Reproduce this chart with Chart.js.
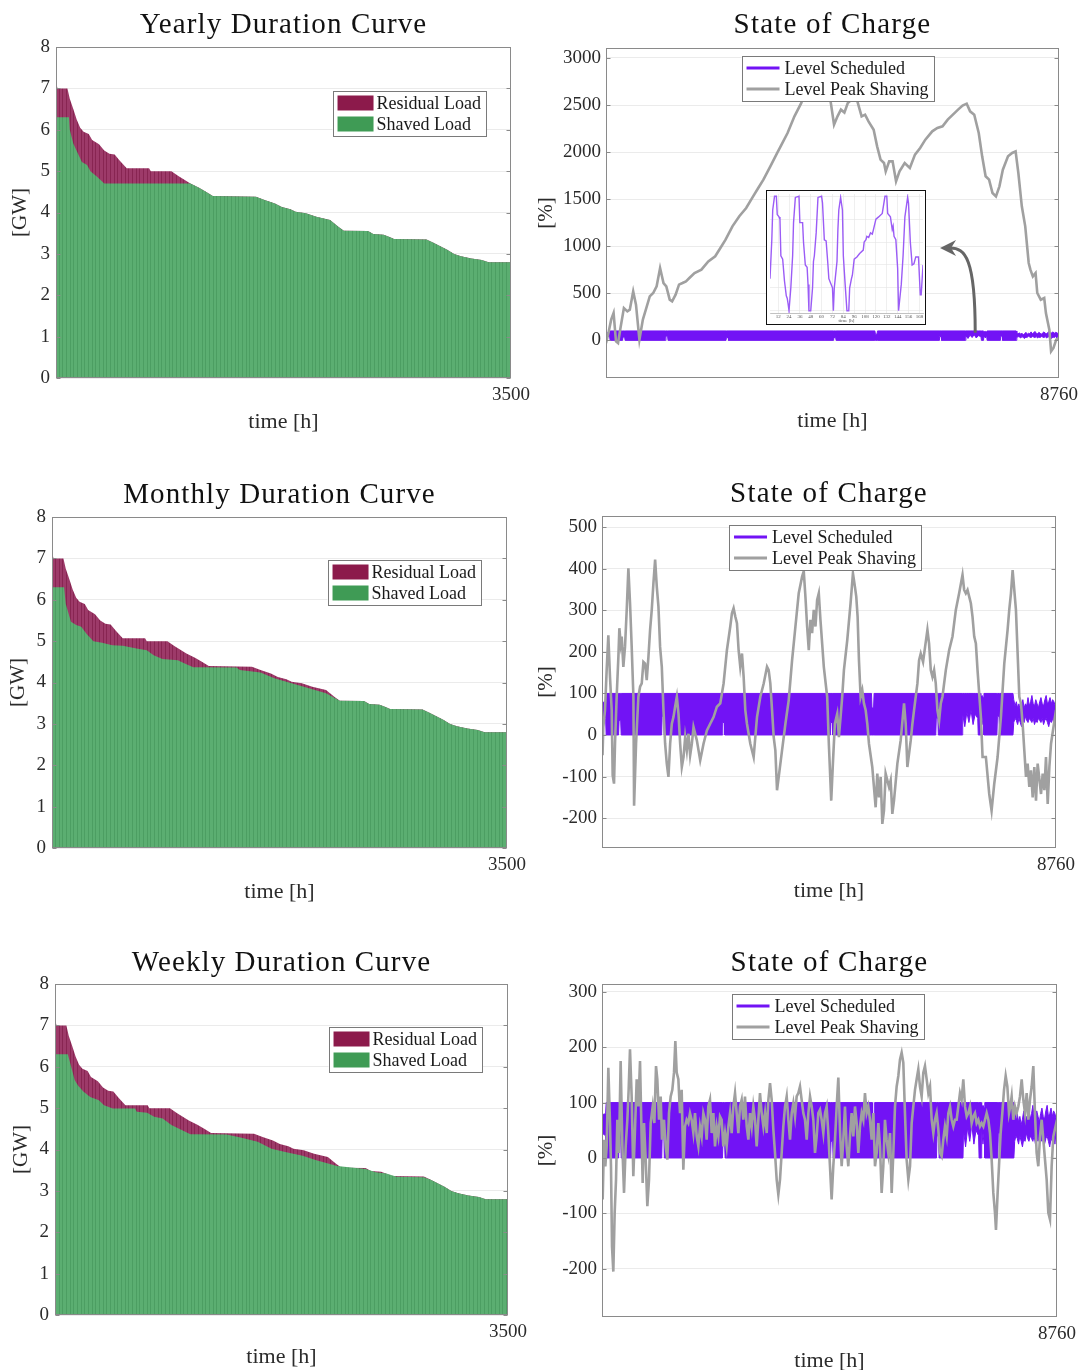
<!DOCTYPE html>
<html lang="en">
<head>
<meta charset="UTF-8" />
<title>Duration Curves and State of Charge</title>
<script src="https://cdn.jsdelivr.net/npm/chart.js@4"></script>
<style>
  body { margin: 0; background: #fff; }
  #page { position: relative; width: 1080px; height: 1370px; overflow: hidden; background: #fff; }
  #page canvas { position: absolute; }
  #inset { position: absolute; left: 766px; top: 190px; width: 158px; height: 133px;
           border: 1.5px solid #111; background: #fff; }
  #inset canvas { position: absolute; left: 0; top: 0; }
</style>
</head>
<body>
<div id="page">
  <canvas id="yearDur"  width="540" height="440" style="left:0;top:0"></canvas>
  <canvas id="yearSoc"  width="550" height="440" style="left:530px;top:0"></canvas>
  <canvas id="monthDur" width="540" height="440" style="left:0;top:470px"></canvas>
  <canvas id="monthSoc" width="550" height="440" style="left:530px;top:470px"></canvas>
  <canvas id="weekDur"  width="540" height="440" style="left:0;top:937px"></canvas>
  <canvas id="weekSoc"  width="550" height="440" style="left:530px;top:937px"></canvas>
  <div id="inset"><canvas id="weekZoom" width="158" height="133"></canvas></div>
</div>

<script>
// ---- load duration curves (hours sorted by load, GW) ----
const resHours = [0, 12, 88, 106, 133, 159, 186, 212, 252, 278, 331, 371, 411, 451, 491, 544, 716, 729, 888, 941,
  1034, 1100, 1153, 1206, 1538, 1604, 1684, 1737, 1803, 1843, 1922, 2002, 2108, 2174, 2214, 2400, 2440, 2520, 2570, 2600,
  2850, 2903, 3009, 3062, 3115, 3195, 3275, 3328, 3500];
const resLoad = [7.15, 7.0, 7.0, 6.75, 6.5, 6.25, 6.05, 5.95, 5.9, 5.75, 5.65, 5.5, 5.42, 5.4, 5.25, 5.07, 5.07, 5.0, 5.0, 4.88,
  4.7, 4.6, 4.5, 4.4, 4.38, 4.3, 4.22, 4.13, 4.08, 4.02, 3.98, 3.9, 3.82, 3.65, 3.56, 3.55, 3.48, 3.46, 3.4, 3.36,
  3.35, 3.27, 3.1, 3.0, 2.94, 2.89, 2.85, 2.8, 2.8];

const yearShavedHours = [0, 100, 106, 133, 172, 199, 239, 265, 318, 371, 1034, 1100, 1153, 1206, 1538, 1604, 1684, 1737, 1803, 1843,
  1922, 2002, 2108, 2174, 2214, 2400, 2440, 2520, 2570, 2600, 2850, 2903, 3009, 3062, 3115, 3195, 3275, 3328, 3500];
const yearShaved = [6.3, 6.3, 6.0, 5.67, 5.4, 5.22, 5.15, 5.0, 4.86, 4.7, 4.7, 4.6, 4.5, 4.4, 4.38, 4.3, 4.22, 4.13, 4.08, 4.02,
  3.98, 3.9, 3.82, 3.65, 3.56, 3.55, 3.48, 3.46, 3.4, 3.36, 3.35, 3.27, 3.1, 3.0, 2.94, 2.89, 2.85, 2.8, 2.8];

const monthShavedHours = [0, 93, 106, 146, 186, 225, 265, 318, 385, 464, 544, 650, 729, 782, 849, 968, 1021, 1087, 1419, 1445,
  1604, 1710, 1843, 1976, 2108, 2214, 2400, 2440, 2520, 2570, 2600, 2850, 2903, 3009, 3062, 3115, 3195, 3275, 3328, 3500];
const monthShaved = [6.3, 6.3, 5.9, 5.47, 5.39, 5.35, 5.18, 5.0, 4.96, 4.9, 4.89, 4.82, 4.78, 4.66, 4.57, 4.54, 4.46, 4.37, 4.36, 4.3,
  4.24, 4.1, 3.98, 3.86, 3.74, 3.56, 3.55, 3.48, 3.46, 3.4, 3.36, 3.35, 3.27, 3.1, 3.0, 2.94, 2.89, 2.85, 2.8, 2.8];

const weekShavedHours = [0, 99, 125, 152, 179, 219, 272, 339, 379, 446, 619, 632, 712, 766, 832, 899, 979, 1046, 1326, 1433,
  1566, 1673, 1779, 1913, 2019, 2180, 2400, 2480, 2560, 2640, 2850, 2903, 3009, 3062, 3115, 3195, 3275, 3328, 3500];
const weekShaved = [6.3, 6.3, 6.0, 5.68, 5.54, 5.4, 5.27, 5.19, 5.07, 4.99, 4.99, 4.91, 4.89, 4.79, 4.75, 4.59, 4.47, 4.37, 4.36, 4.29,
  4.19, 4.02, 3.94, 3.85, 3.74, 3.6, 3.53, 3.45, 3.42, 3.34, 3.33, 3.27, 3.1, 3.0, 2.94, 2.89, 2.85, 2.8, 2.8];

const durTicks = [0, 1, 2, 3, 4, 5, 6, 7, 8];

// ---- storage state of charge (hour of year, %) ----
// scheduled level: upper / lower envelope of the hourly band
const schedHours = [0, 70, 80, 320, 330, 360, 370, 1150, 1160, 1190, 1200, 2320, 2330, 2360, 2370, 4400, 4410, 4440, 4450, 5200,
  5210, 5240, 5250, 6440, 6450, 6480, 6490, 6950, 6960, 7000, 7040, 7080, 7120, 7160, 7200, 7250, 7260, 7300, 7310, 7335,
  7360, 7370, 7620, 7630, 7660, 7670, 7930, 7945, 7970, 7995, 8020, 8045, 8070, 8095, 8120, 8145, 8170, 8195, 8220, 8245,
  8270, 8295, 8320, 8345, 8370, 8395, 8420, 8445, 8470, 8495, 8520, 8545, 8570, 8595, 8620, 8645, 8670, 8695, 8720, 8745,
  8760];
const schedHigh = [78, 80, 100, 100, 100, 100, 100, 100, 100, 100, 100, 100, 100, 100, 100, 100, 100, 100, 100, 100,
  65, 65, 100, 100, 100, 100, 100, 100, 100, 100, 100, 100, 100, 100, 100, 100, 100, 100, 90, 95,
  90, 100, 100, 100, 100, 100, 100, 85, 70, 80, 65, 75, 60, 70, 85, 65, 75, 70, 90, 70,
  80, 95, 75, 70, 85, 75, 65, 80, 90, 75, 70, 85, 95, 75, 80, 90, 75, 85, 80, 70,
  70];
const schedLow = [45, 40, 0, 0, 35, 35, 0, 0, 45, 45, 0, 0, 30, 30, 0, 0, 30, 30, 0, 0,
  0, 0, 0, 0, 40, 40, 0, 0, 50, 20, 55, 30, 60, 25, 50, 40, 0, 0, 50, 25,
  50, 0, 0, 45, 45, 0, 0, 30, 40, 35, 25, 40, 30, 20, 35, 30, 45, 35, 30, 40,
  35, 30, 40, 25, 35, 30, 40, 35, 30, 40, 25, 35, 40, 30, 20, 35, 30, 40, 25, 50,
  55];

const socYearHours = [0, 47, 100, 147, 193, 233, 280, 346, 413, 460, 526, 580, 646, 713, 779, 846, 913, 979, 1046, 1112,
  1166, 1232, 1279, 1346, 1412, 1479, 1546, 1612, 1712, 1845, 1978, 2112, 2212, 2312, 2445, 2578, 2711, 2845, 2944, 3044,
  3178, 3311, 3377, 3511, 3644, 3777, 3910, 4077, 4243, 4343, 4410, 4477, 4543, 4610, 4676, 4830, 4943, 5010, 5076, 5176,
  5243, 5309, 5376, 5409, 5476, 5542, 5609, 5676, 5776, 5876, 5975, 6075, 6175, 6309, 6408, 6508, 6608, 6708, 6808, 6895,
  6975, 7041, 7121, 7208, 7274, 7341, 7408, 7474, 7541, 7608, 7674, 7774, 7854, 7921, 7974, 8041, 8107, 8174, 8207, 8254,
  8307, 8340, 8407, 8474, 8507, 8573, 8607, 8653, 8707, 8760];
const socYearLevel = [-30, 78, 220, 290, -10, -28, 131, 343, 308, 326, 520, 379, 7, 220, 343, 467, 503, 574, 768, 609,
  574, 432, 414, 485, 592, 609, 627, 662, 715, 751, 839, 893, 981, 1070, 1211, 1318, 1406, 1530, 1619, 1707,
  1849, 1991, 2061, 2203, 2380, 2522, 2750, 2900, 2700, 2540, 2292, 2380, 2451, 2420, 2522, 2600, 2380, 2398, 2327, 2238,
  2061, 1920, 1884, 1796, 1902, 1902, 1690, 1796, 1884, 1831, 1973, 2044, 2132, 2221, 2256, 2274, 2345, 2398, 2451, 2494,
  2515, 2433, 2398, 2203, 1955, 1743, 1707, 1566, 1530, 1636, 1813, 1955, 1991, 2008, 1778, 1424, 1211, 822, 751, 680,
  715, 503, 432, 450, 290, 113, -117, -81, 7, 25];
const socYearTicks = [0, 500, 1000, 1500, 2000, 2500, 3000];

const socMonthHours = [0, 10, 25, 58, 90, 122, 154, 187, 206, 232, 251, 283, 316, 335, 361, 380, 412, 444, 477, 509,
  541, 573, 606, 619, 657, 702, 735, 767, 799, 831, 863, 896, 928, 960, 992, 1025, 1057, 1089, 1121, 1154,
  1186, 1218, 1250, 1282, 1315, 1347, 1379, 1411, 1444, 1476, 1508, 1540, 1573, 1605, 1637, 1669, 1701, 1734, 1766, 1830,
  1895, 1959, 2024, 2088, 2153, 2217, 2282, 2346, 2410, 2475, 2507, 2539, 2572, 2604, 2636, 2668, 2701, 2733, 2765, 2797,
  2862, 2926, 2958, 2991, 3055, 3120, 3184, 3216, 3248, 3281, 3313, 3345, 3377, 3410, 3474, 3539, 3603, 3668, 3732, 3796,
  3861, 3893, 3925, 3958, 3990, 4022, 4054, 4086, 4119, 4151, 4183, 4215, 4248, 4280, 4345, 4377, 4423, 4455, 4493, 4539,
  4571, 4603, 4635, 4668, 4732, 4796, 4842, 4880, 4906, 4932, 4958, 4990, 5022, 5054, 5087, 5119, 5151, 5215, 5280, 5312,
  5344, 5377, 5409, 5441, 5473, 5538, 5570, 5602, 5634, 5699, 5763, 5828, 5860, 5892, 5957, 5989, 6021, 6086, 6118, 6150,
  6195, 6234, 6279, 6311, 6344, 6376, 6408, 6440, 6472, 6505, 6537, 6569, 6634, 6698, 6763, 6827, 6891, 6956, 6988, 7020,
  7053, 7085, 7117, 7149, 7182, 7214, 7246, 7311, 7343, 7407, 7472, 7517, 7568, 7633, 7697, 7762, 7826, 7858, 7891, 7923,
  7955, 7987, 8052, 8084, 8116, 8181, 8213, 8245, 8277, 8310, 8342, 8374, 8406, 8471, 8503, 8535, 8567, 8600, 8632, 8664,
  8760];
const socMonthLevel = [-13, -49, 19, 60, 156, 240, 140, 60, -97, -117, -21, 92, 188, 257, 220, 237, 164, 212, 301, 401,
  317, 212, 92, -170, -21, 92, 116, 124, 176, 172, 132, 188, 253, 301, 365, 422, 357, 309, 212, 164,
  60, -21, -69, -101, -21, 27, 43, 68, 92, 51, -21, -77, -53, -5, -37, 3, -49, -21, 19, -13,
  -61, -21, 11, 27, 43, 68, 76, 124, 204, 261, 293, 305, 285, 269, 204, 164, 196, 140, 60, 27,
  -21, -53, -5, 43, 92, 124, 164, 156, 124, 60, -5, -37, -133, -101, -37, 27, 84, 180, 261, 341,
  381, 394, 333, 261, 204, 277, 245, 301, 261, 325, 341, 277, 220, 164, 92, -21, -158, -69, 27, 51,
  -5, 43, 92, 156, 228, 317, 389, 357, 333, 285, 180, 92, 108, 76, 60, 27, -21, -77, -174, -93,
  -150, -101, -214, -182, -93, -125, -109, -190, -158, -69, -13, 76, 27, -77, -13, 27, 60, 124, 180, 196,
  176, 212, 253, 220, 156, 140, 156, 124, 60, 35, 76, 92, 156, 204, 237, 301, 341, 385, 349, 341,
  349, 333, 317, 285, 237, 220, 156, 43, -53, -53, -142, -182, -118, -53, 43, 172, 253, 301, 341, 397,
  349, 301, 92, 76, 27, -101, -69, -125, -85, -150, -77, -158, -69, -142, -93, -133, -53, -166, -77, -21,
  60];
const socMonthTicks = [-200, -100, 0, 100, 200, 300, 400, 500];

const socWeekHours = [0, 13, 39, 64, 90, 122, 154, 173, 193, 218, 244, 270, 295, 327, 359, 392, 424, 456, 488, 513,
  539, 571, 603, 635, 668, 700, 732, 764, 783, 809, 841, 873, 905, 937, 976, 1008, 1040, 1065, 1098, 1130,
  1155, 1194, 1226, 1258, 1290, 1322, 1354, 1386, 1412, 1438, 1470, 1502, 1534, 1566, 1598, 1630, 1662, 1694, 1726, 1759,
  1791, 1823, 1855, 1887, 1919, 1951, 1983, 2015, 2047, 2079, 2112, 2144, 2176, 2208, 2240, 2272, 2304, 2336, 2368, 2400,
  2433, 2465, 2497, 2529, 2561, 2593, 2625, 2657, 2689, 2721, 2753, 2786, 2818, 2850, 2882, 2914, 2946, 2978, 3010, 3042,
  3074, 3107, 3139, 3171, 3203, 3235, 3267, 3299, 3331, 3363, 3395, 3427, 3459, 3491, 3524, 3556, 3588, 3620, 3652, 3684,
  3716, 3748, 3780, 3812, 3844, 3876, 3908, 3941, 3973, 4005, 4037, 4069, 4101, 4133, 4165, 4197, 4229, 4261, 4293, 4325,
  4357, 4389, 4421, 4453, 4486, 4518, 4550, 4582, 4614, 4646, 4678, 4710, 4742, 4774, 4806, 4839, 4871, 4903, 4935, 4967,
  4999, 5031, 5063, 5095, 5127, 5159, 5192, 5224, 5256, 5288, 5320, 5352, 5384, 5416, 5448, 5480, 5512, 5545, 5577, 5609,
  5641, 5673, 5705, 5737, 5769, 5801, 5833, 5865, 5898, 5930, 5962, 5994, 6026, 6058, 6090, 6122, 6154, 6186, 6218, 6251,
  6283, 6315, 6347, 6379, 6411, 6443, 6475, 6507, 6539, 6571, 6603, 6636, 6668, 6700, 6732, 6764, 6796, 6828, 6860, 6892,
  6924, 6956, 6989, 7021, 7053, 7085, 7117, 7149, 7181, 7213, 7245, 7277, 7309, 7342, 7374, 7406, 7438, 7470, 7502, 7534,
  7566, 7585, 7617, 7643, 7675, 7707, 7740, 7772, 7804, 7836, 7861, 7887, 7919, 7951, 7983, 8015, 8047, 8080, 8112, 8144,
  8176, 8208, 8240, 8272, 8304, 8336, 8368, 8400, 8433, 8465, 8497, 8529, 8561, 8593, 8625, 8657, 8689, 8760];
const socWeekLevel = [-15, -75, 33, -15, 21, 163, 63, -15, -160, -205, -99, -39, 69, 9, 175, 21, -63, 21, 69, 123,
  196, 111, -33, 51, 142, 93, 175, 33, -45, 63, -3, -87, -39, 63, 93, 63, 166, 142, 69, 111,
  33, 69, 21, -3, 81, 111, 123, 154, 211, 154, 142, 81, 123, -21, 57, 69, 63, 81, 69, 45,
  81, 39, 21, 57, 39, 81, 69, 33, 93, 105, 45, 81, 21, 57, 39, 75, 69, 21, 45, 21,
  57, 81, 45, 93, 117, 81, 45, 93, 105, 69, 111, 57, 33, 81, 57, 93, 69, 21, 69, 117,
  81, 57, 81, 45, 105, 135, 105, 51, 9, -39, -66, -39, 9, 57, 93, 111, 69, 33, 81, 99,
  75, 111, 117, 129, 105, 81, 69, 33, 81, 111, 93, 69, 9, 39, 81, 87, 69, 45, 81, 93,
  45, -15, -75, -15, 33, 93, 145, 51, -15, 33, 93, 21, -15, 39, 81, 39, 93, 63, 9, 57,
  81, 69, 117, 81, 93, 69, 33, 81, -15, 9, 63, 21, -63, -15, 69, 33, 9, 45, -63, 9,
  93, 129, 148, 178, 190, 172, 81, -3, -39, -15, 63, 93, 123, 142, 160, 129, 111, 154, 166, 142,
  117, 129, 69, 45, 69, 81, 51, 9, 3, 33, 57, 39, 81, 93, 69, 57, 69, 69, 93, 117,
  105, 142, 93, 75, 81, 93, 63, 75, 81, 63, 69, 57, 63, 57, 69, 81, 69, 45, -3, -63,
  -99, -130, -63, -15, 45, 81, 123, 148, 129, 81, 93, 111, 69, 93, 81, 93, 111, 142, 105, 81,
  117, 69, 105, 129, 166, 81, 9, -15, 39, 69, 33, -3, -39, -99, -111, -15, 39, 69];
const socWeekTicks = [-200, -100, 0, 100, 200, 300];

// one week of the scheduled level, shown enlarged
const zoomHours = [3, 5, 6, 8, 10, 11, 13, 14, 15, 17, 19, 21, 22, 23, 24, 26, 28, 29, 31, 35,
  36, 39, 40, 42, 44, 45, 46, 48, 50, 51, 52, 54, 56, 60, 61, 63, 65, 67, 68, 70,
  72, 73, 74, 77, 78, 79, 81, 83, 84, 86, 88, 90, 91, 93, 94, 96, 99, 102, 106, 107,
  109, 110, 112, 114, 116, 117, 120, 123, 127, 130, 132, 133, 136, 138, 139, 140, 142, 144, 145, 148,
  150, 152, 155, 156, 158, 160, 162, 164, 167, 169, 170, 172];
const zoomLevel = [28, 62, 88, 100, 100, 84, 82, 80, 48, 45, 26, 13, 11, 6, 0, 20, 48, 77, 99, 100,
  77, 77, 60, 40, 38, 23, 0, 0, 20, 43, 48, 68, 99, 100, 94, 62, 61, 40, 28, 24,
  20, 0, 20, 43, 71, 88, 99, 88, 48, 23, 0, 0, 20, 28, 31, 45, 47, 50, 53, 60,
  62, 65, 64, 68, 67, 70, 80, 82, 85, 100, 100, 85, 82, 71, 74, 65, 62, 37, 0, 23,
  48, 82, 99, 94, 60, 40, 41, 47, 47, 14, 14, 40];
const zoomTicks = [12, 24, 36, 48, 60, 72, 84, 96, 108, 120, 132, 144, 156, 168];

// ---- styling ----
const FONT = "'Liberation Serif', 'Times New Roman', serif";
Chart.defaults.font.family = FONT;
Chart.defaults.color = '#2b2b2b';
Chart.defaults.animation = false;

const residualColor = '#8c1a4b';
const shavedColor = '#3f9b55';
const schedColor = '#7213f5';
const peakColor = '#a0a0a0';

// thin vertical stripes like the many hourly bars of the area
function stripes(base, dark) {
  const c = document.createElement('canvas');
  c.width = 11; c.height = 4;
  const g = c.getContext('2d');
  g.fillStyle = base; g.fillRect(0, 0, 11, 4);
  g.fillStyle = dark;
  [0, 4, 7].forEach(x => g.fillRect(x, 0, 1, 4));
  return g.createPattern(c, 'repeat');
}
const residualFill = stripes('#9d3a69', '#882552');
const shavedFill = stripes('#5bae71', '#4c9e62');

const pts = (xs, ys) => xs.map((x, i) => ({ x: x, y: ys[i] }));

// panel title centred over the axes
const panelTitle = {
  id: 'panelTitle',
  afterDraw(chart, args, o) {
    const { ctx, chartArea: a } = chart;
    ctx.save();
    ctx.font = '29px ' + FONT;
    if ('letterSpacing' in ctx) ctx.letterSpacing = o.spacing + 'px';
    ctx.fillStyle = '#111';
    ctx.textAlign = 'center';
    ctx.textBaseline = 'middle';
    ctx.fillText(o.text, (a.left + a.right) / 2, o.y);
    ctx.restore();
  }
};

// axes box with small inward ticks
const framePlugin = {
  id: 'frame',
  afterDatasetsDraw(chart) {
    const { ctx, chartArea: a } = chart;
    const y = chart.scales.y;
    ctx.save();
    ctx.strokeStyle = '#8a8a8a';
    ctx.lineWidth = 1;
    const l = Math.round(a.left) + 0.5, r = Math.round(a.right) - 0.5;
    ctx.strokeRect(l, Math.round(a.top) + 0.5, r - l, Math.round(a.bottom) - Math.round(a.top) - 1);
    ctx.beginPath();
    y.ticks.forEach(t => {
      const py = Math.round(y.getPixelForValue(t.value)) + 0.5;
      ctx.moveTo(l, py); ctx.lineTo(l + 4, py);
      ctx.moveTo(r, py); ctx.lineTo(r - 4, py);
    });
    ctx.stroke();
    ctx.restore();
  }
};

// legend box drawn inside the axes, on top of the data
const boxLegend = {
  id: 'boxLegend',
  afterDatasetsDraw(chart, args, o) {
    const items = chart.data.datasets.filter(d => d.label);
    const { ctx, chartArea: a } = chart;
    ctx.save();
    ctx.font = '18px ' + FONT;
    const textW = Math.max(...items.map(d => ctx.measureText(d.label).width));
    const w = 5 + o.sampleW + o.gap + textW + 5;
    const h = items.length * 21 + 3;
    const x = o.align === 'right' ? a.right - o.dx - w : (a.left + a.right) / 2 - w / 2 + o.dx;
    const y = a.top + o.dy;
    ctx.fillStyle = '#fff';
    ctx.fillRect(x, y, w, h);
    ctx.strokeStyle = '#7a7a7a';
    ctx.lineWidth = 1;
    ctx.strokeRect(Math.round(x) + 0.5, Math.round(y) + 0.5, Math.round(w), Math.round(h));
    items.forEach((d, i) => {
      const cy = y + 1.5 + 21 * (i + 0.5);
      if (o.kind === 'swatch') {
        ctx.fillStyle = d.legendColor;
        ctx.fillRect(x + 5, cy - 7.5, o.sampleW, 15);
      } else {
        ctx.strokeStyle = d.legendColor;
        ctx.lineWidth = 3;
        ctx.beginPath(); ctx.moveTo(x + 5, cy); ctx.lineTo(x + 5 + o.sampleW, cy); ctx.stroke();
      }
      ctx.fillStyle = '#1a1a1a';
      ctx.textBaseline = 'middle';
      ctx.fillText(d.label, x + 5 + o.sampleW + o.gap, cy + 1);
    });
    ctx.restore();
  }
};

// curved arrow pointing at the enlarged week
const arrowPlugin = {
  id: 'arrowNote',
  afterDatasetsDraw(chart, args, o) {
    if (!o.from) return;
    const { ctx, scales: { x, y } } = chart;
    const x0 = x.getPixelForValue(o.from[0]), y0 = y.getPixelForValue(o.from[1]);
    const x1 = x.getPixelForValue(o.to[0]), y1 = y.getPixelForValue(o.to[1]);
    ctx.save();
    ctx.strokeStyle = '#666'; ctx.fillStyle = '#666'; ctx.lineWidth = 3;
    ctx.beginPath();
    ctx.moveTo(x0, y0);
    ctx.bezierCurveTo(x0, y1 + 10, x0 - 10, y1, x1 + 10, y1);
    ctx.stroke();
    ctx.beginPath();
    ctx.moveTo(x1, y1);
    ctx.lineTo(x1 + 16, y1 - 8);
    ctx.lineTo(x1 + 11, y1);
    ctx.lineTo(x1 + 16, y1 + 8);
    ctx.closePath();
    ctx.fill();
    ctx.restore();
  }
};

function axes(o) {
  return {
    x: {
      type: 'linear', min: 0, max: o.xMax,
      grid: { display: false, drawTicks: false },
      border: { display: false },
      ticks: { padding: 6, font: { size: 19 }, autoSkip: false, maxRotation: 0, callback: v => String(v) },
      afterBuildTicks: s => { s.ticks = [{ value: o.xMax }]; },
      afterFit: s => { s.height = o.xAxisH || 62; s.paddingLeft = 0; s.paddingRight = 0; },
      title: { display: true, text: 'time [h]', font: { size: 22 }, padding: { top: 0, bottom: o.xTitlePad } }
    },
    y: {
      min: o.yMin, max: o.yMax,
      grid: { color: '#ebebeb', drawTicks: false },
      border: { display: false },
      ticks: { padding: o.yTickPad || 6, font: { size: 19 }, autoSkip: false, callback: v => String(v) },
      afterBuildTicks: s => { s.ticks = o.yTicks.map(v => ({ value: v })); },
      afterFit: s => { s.width = o.yWidth; s.paddingTop = 0; s.paddingBottom = 0; },
      title: { display: true, text: o.yTitle, font: { size: 21 }, padding: { top: o.yTitlePad, bottom: 0 } }
    }
  };
}

function commonOptions(o, legend) {
  return {
    responsive: false,
    animation: false,
    layout: { padding: { left: 0, right: o.rightPad, top: o.areaTop || 47, bottom: 0 } },
    elements: { line: { tension: 0 }, point: { radius: 0 } },
    plugins: {
      legend: { display: false },
      tooltip: { enabled: false },
      title: { display: false },
      panelTitle: { text: o.title, y: o.titleY || 25, spacing: o.spacing },
      boxLegend: legend,
      arrowNote: o.arrow || {}
    },
    scales: axes(o)
  };
}

function durationChart(id, o) {
  o.xMax = 3500; o.yMin = 0; o.yMax = 8; o.yTicks = durTicks; o.yTitle = '[GW]'; o.spacing = 1.1;
  new Chart(document.getElementById(id), {
    type: 'line',
    data: {
      datasets: [
        { label: 'Residual Load', data: pts(resHours, resLoad), backgroundColor: residualFill,
          borderWidth: 0, fill: 'origin', order: 2, legendColor: residualColor },
        { label: 'Shaved Load', data: pts(o.hours, o.load), backgroundColor: shavedFill,
          borderWidth: 0, fill: 'origin', order: 1, legendColor: shavedColor }
      ]
    },
    options: commonOptions(o, { kind: 'swatch', align: 'right', dx: o.legendDx, dy: o.legendDy, sampleW: 36, gap: 3 }),
    plugins: [framePlugin, boxLegend, panelTitle]
  });
}

function socChart(id, o) {
  o.xMax = 8760; o.yTitle = '[%]'; o.title = 'State of Charge'; o.spacing = 1.2;
  new Chart(document.getElementById(id), {
    type: 'line',
    data: {
      datasets: [
        { label: 'Level Scheduled', data: pts(schedHours, schedHigh), borderColor: schedColor,
          backgroundColor: schedColor, borderWidth: 1, fill: '+1', order: 1, legendColor: schedColor },
        { data: pts(schedHours, schedLow), borderColor: schedColor, borderWidth: 1, fill: false, order: 2 },
        { label: 'Level Peak Shaving', data: pts(o.hours, o.level), borderColor: peakColor,
          borderWidth: 2.6, fill: false, order: 0, legendColor: peakColor }
      ]
    },
    options: commonOptions(o, { kind: 'line', align: 'center', dx: o.legendDx, dy: o.legendDy, sampleW: 33, gap: 5 }),
    plugins: [framePlugin, arrowPlugin, boxLegend, panelTitle]
  });
}

durationChart('yearDur', { title: 'Yearly Duration Curve', hours: yearShavedHours, load: yearShaved,
  yWidth: 56, rightPad: 29, yTitlePad: 8, xTitlePad: 5, legendDx: 25, legendDy: 44 });
durationChart('monthDur', { title: 'Monthly Duration Curve', hours: monthShavedHours, load: monthShaved,
  yWidth: 52, rightPad: 33, yTitlePad: 6, xTitlePad: 5, legendDx: 26, legendDy: 43 });
durationChart('weekDur', { title: 'Weekly Duration Curve', hours: weekShavedHours, load: weekShaved,
  yWidth: 55, rightPad: 32, yTitlePad: 9, xTitlePad: 7, legendDx: 26, legendDy: 43, titleY: 26 });

socChart('yearSoc', { hours: socYearHours, level: socYearLevel, yMin: -400, yMax: 3106, yTicks: socYearTicks,
  yWidth: 76, rightPad: 21, yTitlePad: 4, yTickPad: 5, xTitlePad: 6, legendDx: 5, legendDy: 8, areaTop: 48,
  arrow: { from: [7140, 80], to: [6460, 980] } });
socChart('monthSoc', { hours: socMonthHours, level: socMonthLevel, yMin: -272, yMax: 527, yTicks: socMonthTicks,
  yWidth: 72, rightPad: 24, yTitlePad: 4, yTickPad: 5, xTitlePad: 6, legendDx: -4, legendDy: 9, areaTop: 46, titleY: 24 });
socChart('weekSoc', { hours: socWeekHours, level: socWeekLevel, yMin: -287, yMax: 314, yTicks: socWeekTicks,
  yWidth: 72, rightPad: 23, yTitlePad: 4, yTickPad: 5, xTitlePad: 3, xAxisH: 60, legendDx: -2, legendDy: 10, titleY: 26 });

// enlarged week of the scheduled level
new Chart(document.getElementById('weekZoom'), {
  type: 'line',
  data: { datasets: [{ data: pts(zoomHours, zoomLevel), borderColor: '#9b5cf6', borderWidth: 1.4, fill: false }] },
  options: {
    responsive: false,
    animation: false,
    layout: { padding: { left: 0, right: 2, top: 3, bottom: 0 } },
    elements: { line: { tension: 0 }, point: { radius: 0 } },
    plugins: { legend: { display: false }, tooltip: { enabled: false } },
    scales: {
      x: {
        type: 'linear', min: 3, max: 172,
        grid: { color: '#e4e4e4', lineWidth: 0.6, drawTicks: false },
        border: { color: '#999', width: 0.6 },
        ticks: { font: { size: 5 }, padding: 1, autoSkip: false, maxRotation: 0, color: '#555' },
        afterBuildTicks: s => { s.ticks = zoomTicks.map(v => ({ value: v })); },
        afterFit: s => { s.height = 11; s.paddingLeft = 0; s.paddingRight = 0; },
        title: { display: true, text: 'time [h]', font: { size: 5 }, padding: 0, color: '#555' }
      },
      y: {
        min: -2, max: 102,
        grid: { color: '#e4e4e4', lineWidth: 0.6, drawTicks: false },
        border: { display: false },
        ticks: { display: false },
        afterBuildTicks: s => { s.ticks = [0, 20, 40, 60, 80, 100].map(v => ({ value: v })); },
        afterFit: s => { s.width = 3; s.paddingTop = 0; s.paddingBottom = 0; }
      }
    }
  }
});
</script>
</body>
</html>
